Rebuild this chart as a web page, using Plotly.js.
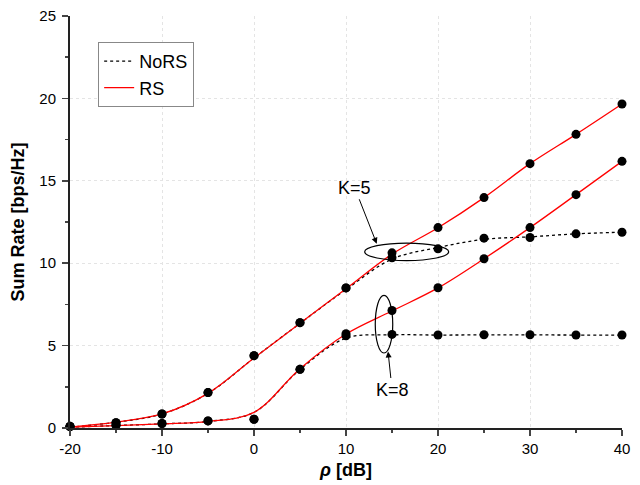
<!DOCTYPE html>
<html>
<head>
<meta charset="utf-8">
<script src="https://cdn.plot.ly/plotly-3.0.1.min.js"></script>
<style>html,body{margin:0;padding:0;background:#fff;}#chart{width:640px;height:485px;}</style>
</head>
<body>
<div id="chart"></div>
<script>
// SNR axis (dB)
var snr = [-20, -15, -10, -5, 0, 5, 10, 15, 20, 25, 30, 35, 40];

// Analytical curves
var rsK5Line   = [0.05, 0.35, 0.85, 2.1, 4.25, 6.35, 8.45, 10.55, 12.15, 13.98, 16.04, 17.82, 19.66];
var rsK8Line   = [0.05, 0.15, 0.25, 0.4, 0.95, 3.6, 5.7, 7.1, 8.5, 10.27, 12.16, 14.16, 16.18];
var norsK5Line = [0.05, 0.35, 0.85, 2.1, 4.25, 6.35, 8.4, 10.25, 10.95, 11.45, 11.6, 11.78, 11.88];
var norsK8Line = [0.05, 0.15, 0.25, 0.4, 0.95, 3.55, 5.45, 5.65, 5.64, 5.65, 5.65, 5.64, 5.64];

// Simulation points
var rsK5Sim   = [0.1, 0.32, 0.85, 2.15, 4.39, 6.39, 8.5, 10.63, 12.16, 13.98, 16.04, 17.82, 19.66];
var rsK8Sim   = [0.08, 0.16, 0.27, 0.43, 0.53, 3.56, 5.72, 7.13, 8.51, 10.27, 12.16, 14.16, 16.18];
var norsK5Sim = [0.1, 0.32, 0.85, 2.15, 4.39, 6.39, 8.5, 10.33, 10.87, 11.52, 11.56, 11.78, 11.88];
var norsK8Sim = [0.08, 0.16, 0.27, 0.43, 0.53, 3.56, 5.6, 5.68, 5.64, 5.66, 5.66, 5.64, 5.64];

var seriesNames = ['NoRS', 'RS'];
var xTickVals = [-20, -10, 0, 10, 20, 30, 40];
var xTickText = ['-20', '-10', '0', '10', '20', '30', '40'];
var yTickVals = [0, 5, 10, 15, 20, 25];
var yTickText = ['0', '5', '10', '15', '20', '25'];

var FONT = 'Liberation Sans, Arial, sans-serif';

function lineTrace(y, name, color, dash, show) {
  return {x: snr, y: y, type: 'scatter', mode: 'lines', name: name,
    showlegend: show, legendgroup: name, cliponaxis: false,
    line: {color: color, width: 1.3, dash: dash, shape: 'spline', smoothing: 1}};
}
function markTrace(y) {
  return {x: snr, y: y, type: 'scatter', mode: 'markers', showlegend: false,
    cliponaxis: false, marker: {color: '#000', size: 9}};
}

var data = [
  lineTrace(norsK5Line, seriesNames[0], '#000', 'dot', true),
  lineTrace(norsK8Line, seriesNames[0], '#000', 'dot', false),
  lineTrace(rsK5Line, seriesNames[1], '#ff0000', 'solid', true),
  lineTrace(rsK8Line, seriesNames[1], '#ff0000', 'solid', false),
  markTrace(norsK5Sim), markTrace(norsK8Sim), markTrace(rsK5Sim), markTrace(rsK8Sim)
];

var layout = {
  width: 640, height: 485,
  margin: {l: 70, r: 18, t: 16, b: 57},
  paper_bgcolor: '#fff', plot_bgcolor: '#fff',
  font: {family: FONT, color: '#000', size: 15},
  showlegend: true,
  legend: {x: 0.051, y: 0.937, xanchor: 'left', yanchor: 'top',
    bordercolor: '#888', borderwidth: 1, bgcolor: '#fff',
    font: {family: FONT, size: 18}, tracegroupgap: 0},
  xaxis: {range: [-20, 40], tickvals: xTickVals, ticktext: xTickText, ticks: 'outside', ticklen: 6, tickwidth: 1.5,
    showline: true, linewidth: 2, linecolor: '#222', zeroline: false,
    showgrid: true, gridcolor: '#e4e4e4', griddash: 'dot', gridwidth: 1,
    minor: {dtick: 5, tick0: 0, ticks: 'outside', ticklen: 3, tickwidth: 1.5, showgrid: false},
    tickfont: {size: 15},
    title: {text: '<b><i>ρ</i> [dB]</b>', font: {size: 18}, standoff: 7}},
  yaxis: {range: [0, 25], tickvals: yTickVals, ticktext: yTickText, ticks: 'outside', ticklen: 6, tickwidth: 1.5,
    showline: true, linewidth: 2, linecolor: '#222', zeroline: false,
    showgrid: true, gridcolor: '#e4e4e4', griddash: 'dot', gridwidth: 1,
    minor: {dtick: 2.5, tick0: 0, ticks: 'outside', ticklen: 3, tickwidth: 1.5, showgrid: false},
    tickfont: {size: 15}, ticklabelstandoff: 3,
    title: {text: '<b>Sum Rate [bps/Hz]</b>', font: {size: 18}, standoff: 10}},
  xaxis2: {range: [-20, 40], overlaying: 'x', anchor: 'y', side: 'top', tickvals: xTickVals,
    ticks: 'inside', ticklen: 6, tickwidth: 1.5, showticklabels: false, showgrid: false,
    showline: true, linewidth: 2, linecolor: '#222', zeroline: false,
    minor: {dtick: 5, tick0: 0, ticks: 'inside', ticklen: 4, tickwidth: 1.5, showgrid: false}},
  yaxis2: {range: [0, 25], overlaying: 'y', anchor: 'x', side: 'right', tickvals: yTickVals,
    ticks: 'inside', ticklen: 5, tickwidth: 1.5, showticklabels: false, showgrid: false,
    showline: true, linewidth: 2, linecolor: '#222', zeroline: false,
    minor: {dtick: 2.5, tick0: 0, ticks: 'inside', ticklen: 4, tickwidth: 1.5, showgrid: false}},
  shapes: [
    {type: 'circle', xref: 'x', yref: 'y', x0: 12.03, x1: 21.16, y0: 10.16, y1: 11.22,
      line: {color: '#000', width: 1.2}},
    {type: 'circle', xref: 'x', yref: 'y', x0: 13.18, x1: 15.08, y0: 4.55, y1: 8.05,
      line: {color: '#000', width: 1.2}}
  ],
  annotations: [
    {x: 13.34, y: 11.18, xref: 'x', yref: 'y', text: 'K=5', showarrow: true,
      ax: -22, ay: -56, arrowhead: 2, arrowsize: 1.2, arrowwidth: 1, arrowcolor: '#000',
      font: {family: FONT, size: 18, color: '#000'}},
    {x: 14.57, y: 4.64, xref: 'x', yref: 'y', text: 'K=8', showarrow: true,
      ax: 4, ay: 38, arrowhead: 2, arrowsize: 1.2, arrowwidth: 1, arrowcolor: '#000',
      font: {family: FONT, size: 18, color: '#000'}}
  ]
};

Plotly.newPlot('chart', data, layout, {displayModeBar: false, staticPlot: true});
</script>
</body>
</html>
